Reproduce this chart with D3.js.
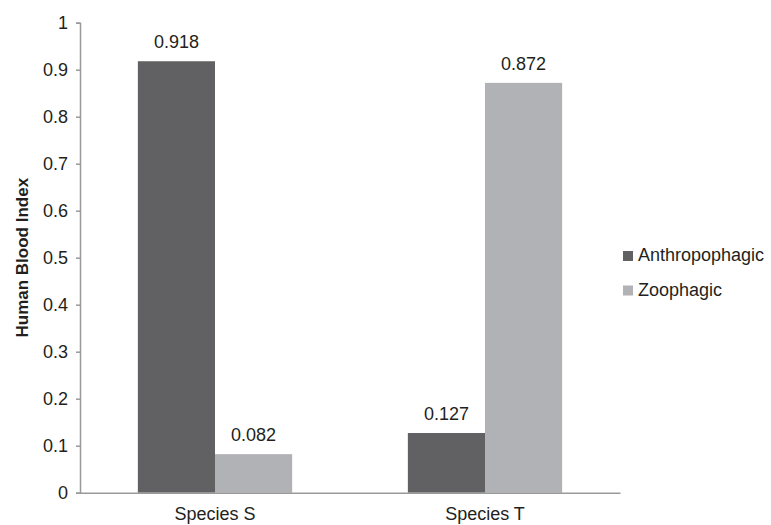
<!DOCTYPE html>
<html><head><meta charset="utf-8">
<script src="https://cdn.jsdelivr.net/npm/d3@7"></script>
<style>body{margin:0;background:#fff}svg{display:block}text{font-family:"Liberation Sans",Arial,sans-serif;fill:#231f20}</style>
</head><body>
<svg id="c" width="771" height="525"></svg>
<script>
const categories = ["Species S", "Species T"];
const seriesNames = ["Anthropophagic", "Zoophagic"];
const anthropophagic = [0.918, 0.127];
const zoophagic = [0.082, 0.872];
const yTicks = [0, 0.1, 0.2, 0.3, 0.4, 0.5, 0.6, 0.7, 0.8, 0.9, 1];
const colors = ["#616163", "#b1b2b5"];

const svg = d3.select("#c");
const m = {left: 80, right: 151, top: 22.7, bottom: 32.3};
const W = 771, H = 525;
const FS = 18;
const x0 = d3.scaleBand().domain(categories).range([m.left, W - m.right]).paddingInner(0).paddingOuter(0);
const x1 = d3.scaleBand().domain(seriesNames).range([0, x0.bandwidth()]).paddingInner(0).paddingOuter(0.75);
const y = d3.scaleLinear().domain([0, 1]).range([H - m.bottom, m.top]);
const series = [anthropophagic, zoophagic];

// bars
const g = svg.append("g");
categories.forEach((c, i) => {
  seriesNames.forEach((s, j) => {
    const v = series[j][i];
    g.append("rect").attr("x", x0(c) + x1(s)).attr("y", y(v))
      .attr("width", x1.bandwidth()).attr("height", y(0) - y(v)).attr("fill", colors[j]);
    g.append("text").attr("x", x0(c) + x1(s) + x1.bandwidth() / 2).attr("y", y(v) - 13)
      .attr("text-anchor", "middle").attr("font-size", FS).text(v.toFixed(3));
  });
});

// y axis
const ya = svg.append("g").attr("transform", `translate(${m.left},0)`)
  .call(d3.axisLeft(y).tickValues(yTicks).tickSize(4).tickPadding(8).tickFormat(d => d3.format("")(+d.toFixed(1))));
ya.select(".domain").attr("stroke", "#999").attr("stroke-width", 1.5);
ya.selectAll(".tick line").attr("stroke", "#999").attr("stroke-width", 1.5);
ya.selectAll(".tick text").attr("font-size", FS).attr("fill", "#231f20").style("font-family", '"Liberation Sans",Arial,sans-serif');

// x axis
const xa = svg.append("g").attr("transform", `translate(0,${y(0)})`)
  .call(d3.axisBottom(x0).tickSize(0).tickPadding(15));
xa.select(".domain").attr("stroke", "#999").attr("stroke-width", 1.5);
xa.selectAll(".tick text").attr("font-size", FS).attr("fill", "#231f20").style("font-family", '"Liberation Sans",Arial,sans-serif');

// y title
svg.append("text").attr("transform", `translate(28,${(y(0) + y(1)) / 2}) rotate(-90)`)
  .attr("text-anchor", "middle").attr("font-size", 17).attr("font-weight", "bold").text("Human Blood Index");

// legend
seriesNames.forEach((s, j) => {
  const ly = 256 + j * 34.5;
  svg.append("rect").attr("x", 623).attr("y", ly - 5).attr("width", 10).attr("height", 10).attr("fill", colors[j]);
  svg.append("text").attr("x", 638).attr("y", ly + 5).attr("font-size", FS).text(s);
});
</script>
</body></html>
